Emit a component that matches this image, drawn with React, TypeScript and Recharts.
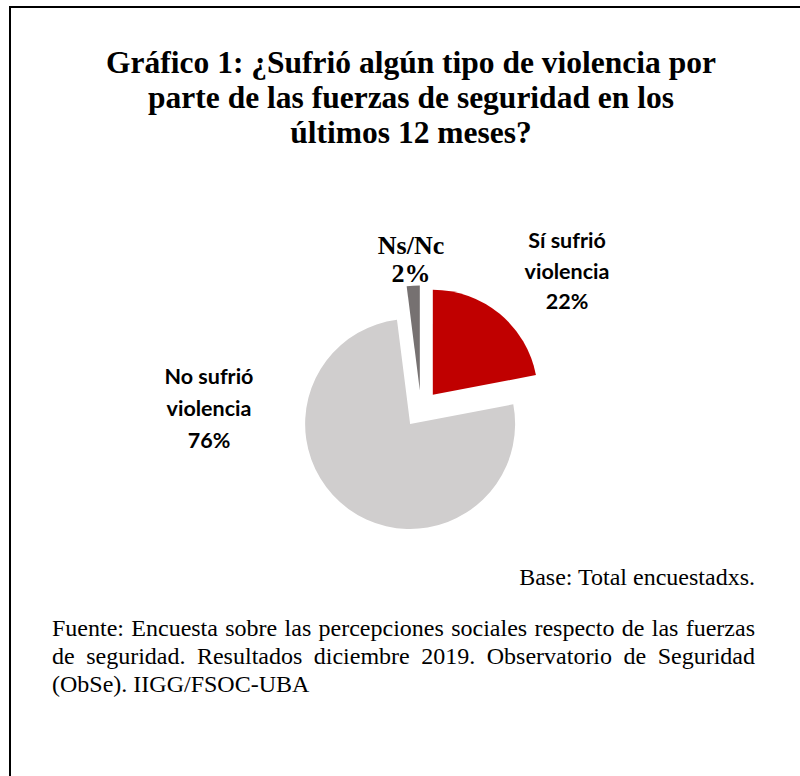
import { Cell, Pie, PieChart } from 'recharts'

const categories = ['Sí sufrió violencia', 'No sufrió violencia', 'Ns/Nc']
const values = [22, 76, 2]
const colors = ['#C00000', '#D0CECE', '#767171']

const EXPLODE = 18.5

const data = categories.map((name, i) => ({ name, value: values[i] }))

// offset of each slice along its own mid angle (pie starts at 12 o'clock, clockwise)
const total = values.reduce((a, b) => a + b, 0)
const offsets = values.map((v, i) => {
  const before = values.slice(0, i).reduce((a, b) => a + b, 0)
  const mid = 90 - ((before + v / 2) / total) * 360
  const rad = (mid * Math.PI) / 180
  return { dx: EXPLODE * Math.cos(rad), dy: -EXPLODE * Math.sin(rad) }
})

const calibri = 'Lato, "Open Sans", sans-serif'
const times = '"Liberation Serif", "Times New Roman", serif'

export default function App() {
  return (
    <div
      style={{
        position: 'fixed',
        left: 0,
        top: 0,
        width: 800,
        height: 776,
        background: '#fff',
        overflow: 'hidden',
      }}
    >
      <div
        style={{
          position: 'absolute',
          left: 9,
          top: 6,
          right: 0,
          bottom: 0,
          borderLeft: '2px solid #000',
          borderTop: '2px solid #000',
        }}
      />
      <div
        style={{
          position: 'absolute',
          left: 0,
          width: 822,
          top: 45,
          textAlign: 'center',
          fontFamily: times,
          fontWeight: 'bold',
          fontSize: 31.5,
          lineHeight: '35px',
        }}
      >
        Gráfico 1: ¿Sufrió algún tipo de violencia por
        <br />
        parte de las fuerzas de seguridad en los
        <br />
        últimos 12 meses?
      </div>

      <div style={{ position: 'absolute', left: 0, top: 0 }}>
        <PieChart width={800} height={776} margin={{ top: 0, right: 0, bottom: 0, left: 0 }}>
          <Pie
            data={data}
            dataKey="value"
            nameKey="name"
            cx={421}
            cy={409}
            outerRadius={105}
            startAngle={90}
            endAngle={-270}
            stroke="none"
            isAnimationActive={false}
          >
            {data.map((d, i) => (
              <Cell
                key={d.name}
                fill={colors[i]}
                transform={`translate(${offsets[i].dx}, ${offsets[i].dy})`}
              />
            ))}
          </Pie>
        </PieChart>
      </div>

      {/* slice labels */}
      <div
        style={{
          position: 'absolute',
          left: 467,
          width: 200,
          top: 225,
          textAlign: 'center',
          fontFamily: calibri,
          fontWeight: 'bold',
          fontSize: 21.5,
          lineHeight: '30.5px',
        }}
      >
        Sí sufrió
        <br />
        violencia
        <br />
        {values[0]}%
      </div>
      <div
        style={{
          position: 'absolute',
          left: 109,
          width: 200,
          top: 360,
          textAlign: 'center',
          fontFamily: calibri,
          fontWeight: 'bold',
          fontSize: 21.5,
          lineHeight: '32px',
        }}
      >
        No sufrió
        <br />
        violencia
        <br />
        {values[1]}%
      </div>
      <div
        style={{
          position: 'absolute',
          left: 361,
          width: 100,
          top: 232,
          textAlign: 'center',
          fontFamily: times,
          fontWeight: 'bold',
          fontSize: 26,
          lineHeight: '28px',
        }}
      >
        Ns/Nc
        <br />
        {values[2]}%
      </div>

      <div
        style={{
          position: 'absolute',
          right: 45,
          top: 563,
          fontFamily: times,
          fontSize: 24,
          lineHeight: '28px',
        }}
      >
        Base: Total encuestadxs.
      </div>
      <div
        style={{
          position: 'absolute',
          left: 52,
          width: 703,
          top: 614,
          fontFamily: times,
          fontSize: 24,
          lineHeight: '28px',
          textAlign: 'justify',
        }}
      >
        Fuente: Encuesta sobre las percepciones sociales respecto de las fuerzas de seguridad.
        Resultados diciembre 2019. Observatorio de Seguridad (ObSe). IIGG/FSOC-UBA
      </div>
    </div>
  )
}
